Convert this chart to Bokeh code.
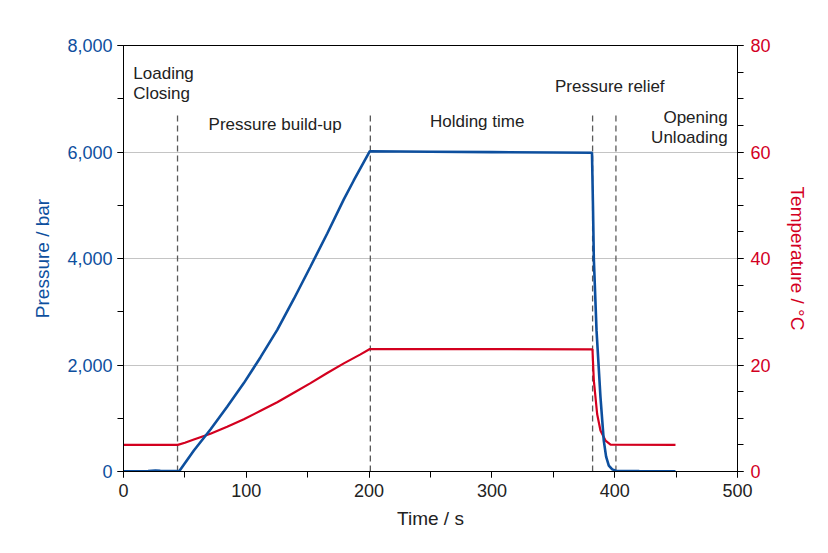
from bokeh.plotting import figure
from bokeh.models import (Range1d, LinearAxis, SingleIntervalTicker,
                          NumeralTickFormatter, ColumnDataSource)
from bokeh.core.properties import value
from bokeh.embed import file_html
from bokeh.resources import INLINE

# ---------------- data ----------------
pressure_time = [0, 10, 20, 26, 30, 36, 44, 45.5, 57.3, 70.8, 84.4, 98.0, 111.6,
                 125.2, 138.7, 152.3, 165.9, 179.4, 187.5, 200.6, 250, 300, 350,
                 381.5, 382.3, 383.0, 385.2, 388.4, 391.1, 393.0, 395.2, 398.0,
                 401.0, 420.0, 449.5]
pressure_bar = [5, 5, 8, 20, 15, 10, 10, 10, 394, 790, 1215, 1660, 2147,
                2660, 3240, 3850, 4470, 5110, 5465, 6015, 6005, 5998, 5990,
                5985, 5000, 4000, 2650, 1400, 580, 280, 110, 40,
                15, 8, 5]

temp_time = [0, 44.2, 50, 57.3, 70.8, 84.4, 98.0, 111.6, 125.2, 138.7, 152.3,
             165.9, 179.4, 193.0, 200.6, 300, 381.9, 382.4, 383.0, 385.7,
             388.4, 392.5, 396.6, 449.5]
temp_c = [5.0, 5.0, 5.4, 6.0, 7.1, 8.4, 9.8, 11.4, 13.0, 14.8, 16.6,
          18.5, 20.3, 22.0, 23.0, 23.0, 22.95, 20.2, 17.1, 10.8,
          7.7, 5.8, 5.05, 5.0]

phase_bounds = [44, 201, 382, 401]
phase_top = 6720

ann_text = ["Loading", "Closing", "Pressure build-up", "Holding time",
            "Pressure relief", "Opening", "Unloading"]
ann_x = [8, 8, 123.5, 288, 396, 492, 492]
ann_y = [7474, 7099, 6516, 6573, 7230, 6648, 6272]
ann_align = ["left", "left", "center", "center", "center", "right", "right"]

# ---------------- style ----------------
BLUE = "#0d4f9e"
RED = "#d3001f"
FONT = "Liberation Sans"
DARK = "#222222"

p = figure(width=812, height=537, x_range=Range1d(0, 500), y_range=Range1d(0, 8000),
           output_backend="svg", toolbar_location=None,
           min_border_left=123, min_border_right=75,
           min_border_top=45, min_border_bottom=66)
p.extra_y_ranges = {"temp": Range1d(0, 80)}

p.outline_line_color = "black"
p.outline_line_width = 1
p.xgrid.visible = False
p.ygrid.grid_line_color = "#c4c4c4"
p.ygrid.grid_line_width = 1

# axes
xa = p.xaxis[0]
xa.ticker = SingleIntervalTicker(interval=100, num_minor_ticks=2)
ya = p.yaxis[0]
ya.ticker = SingleIntervalTicker(interval=2000, num_minor_ticks=2)
ya.formatter = NumeralTickFormatter(format="0,0")
p.ygrid.ticker = SingleIntervalTicker(interval=2000)

ra = LinearAxis(y_range_name="temp",
                ticker=SingleIntervalTicker(interval=20, num_minor_ticks=4))
p.add_layout(ra, "right")

for ax in (xa, ya, ra):
    ax.axis_line_color = "black"
    ax.major_tick_line_color = "black"
    ax.minor_tick_line_color = "black"
    ax.major_tick_in = 0
    ax.minor_tick_in = 0
    ax.major_tick_out = 6
    ax.minor_tick_out = 6
    ax.major_label_text_font = FONT
    ax.major_label_text_font_size = "18px"
    ax.axis_label_text_font = FONT
    ax.axis_label_text_font_size = "19px"
    ax.axis_label_text_font_style = "normal"

xa.axis_label = "Time / s"
xa.major_label_text_color = DARK
xa.axis_label_text_color = DARK
xa.major_label_standoff = 6
xa.axis_label_standoff = 8

ya.axis_label = "Pressure / bar"
ya.major_label_text_color = BLUE
ya.axis_label_text_color = BLUE
ya.major_label_standoff = 5
ya.axis_label_standoff = 11

ra.axis_label = "Temperature / °C"
ra.major_label_text_color = RED
ra.axis_label_text_color = RED
ra.major_label_standoff = 7
ra.axis_label_standoff = 13

# phase boundaries
p.segment(x0=phase_bounds, x1=phase_bounds, y0=[0] * len(phase_bounds),
          y1=[phase_top] * len(phase_bounds), line_color="#5a5a5a",
          line_width=1.3, line_dash="6 4")

# curves
p.line(temp_time, temp_c, y_range_name="temp", line_color=RED, line_width=2.2)
p.line(pressure_time, pressure_bar, line_color=BLUE, line_width=2.6)

# annotations
src = ColumnDataSource(dict(x=ann_x, y=ann_y, text=ann_text, align=ann_align))
p.text(x="x", y="y", text="text", text_align="align", source=src,
       text_baseline="middle", text_font=value(FONT), text_font_size="17px",
       text_color=DARK)

open("out.html", "w").write(file_html(p, INLINE))
